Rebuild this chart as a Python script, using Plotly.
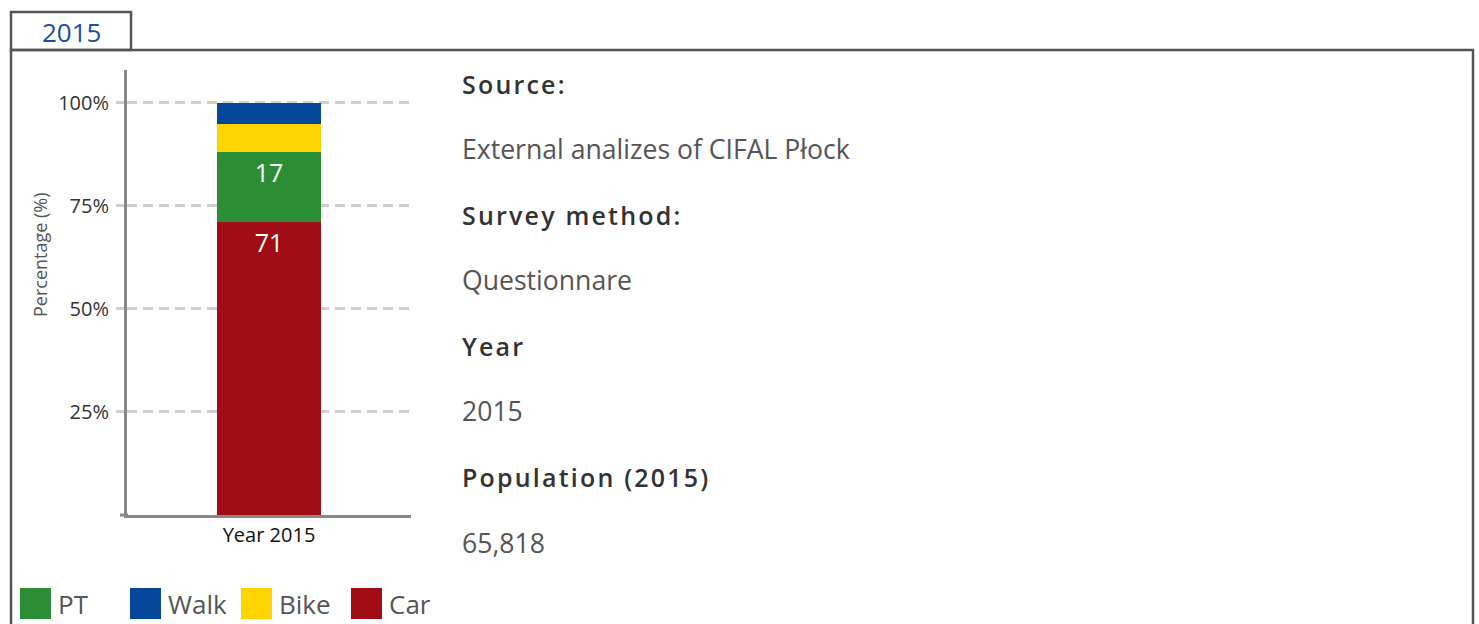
import plotly.graph_objects as go

W, H = 1479, 624

# ---- data ----
categories = ["Year 2015"]
car = [71]
pt = [17]
bike = [7]
walk = [5]
y_ticks = [25, 50, 75, 100]
y_tick_text = [f"{v}%" for v in y_ticks]

legend_order = ["PT", "Walk", "Bike", "Car"]
colors = {"Car": "#a10d14", "PT": "#2b8e34", "Bike": "#ffd400", "Walk": "#03469a"}

info = [
    ("Source:", "External analizes of CIFAL Płock"),
    ("Survey method:", "Questionnare"),
    ("Year", "2015"),
    ("Population (2015)", "65,818"),
]
tab_label = "2015"

FONT = "Open Sans"

def px(x):
    return x / W

def py(y):
    return 1 - y / H

fig = go.Figure()
series = [("Car", car, True), ("PT", pt, True), ("Bike", bike, False), ("Walk", walk, False)]
for name, vals, show in series:
    fig.add_trace(go.Bar(
        x=categories, y=vals, name=name,
        marker=dict(color=colors[name], line=dict(width=0)),
        width=0.363,
        text=[str(v) for v in vals] if show else None,
        textposition="inside" if show else "none",
        insidetextanchor="end",
        textfont=dict(color="white", size=25, family=FONT),
        showlegend=False,
        hoverinfo="skip",
    ))

shapes = []
# tab box
shapes.append(dict(type="rect", xref="paper", yref="paper",
                   x0=px(11), x1=px(131), y0=py(50), y1=py(12),
                   line=dict(color="#555555", width=2.5)))
# main panel
shapes.append(dict(type="path", xref="paper", yref="paper",
                   path=f"M {px(11)} {py(630)} L {px(11)} {py(50)} L {px(1473)} {py(50)} L {px(1473)} {py(630)}",
                   line=dict(color="#555555", width=2.5)))
# x-axis left overshoot
shapes.append(dict(type="line", xref="paper", yref="paper",
                   x0=px(120), x1=px(128), y0=py(515), y1=py(515),
                   line=dict(color="#888888", width=3)))

annotations = []
annotations.append(dict(text=tab_label, x=px(71), y=py(32), xref="paper", yref="paper",
                        showarrow=False, xanchor="center", yanchor="middle",
                        font=dict(family=FONT, size=26, color="#1a4f9f")))

head_y = [84, 215, 346, 477]
val_y = [149, 280, 411, 543]
for (h, v), hy, vy in zip(info, head_y, val_y):
    annotations.append(dict(text=f"<span style='letter-spacing:2.2px'>{h}</span>",
                            x=px(460), y=py(hy), xref="paper", yref="paper",
                            showarrow=False, xanchor="left", yanchor="middle",
                            font=dict(family=FONT, size=25, color="#333333", weight=600)))
    annotations.append(dict(text=v, x=px(460), y=py(vy), xref="paper", yref="paper",
                            showarrow=False, xanchor="left", yanchor="middle",
                            font=dict(family=FONT, size=26.6, color="#555555")))

# legend (custom, large swatches)
leg_x = [20, 130, 241, 351]
for name, lx in zip(legend_order, leg_x):
    shapes.append(dict(type="rect", xref="paper", yref="paper",
                       x0=px(lx), x1=px(lx + 31), y0=py(619), y1=py(588),
                       fillcolor=colors[name], line=dict(width=0)))
    annotations.append(dict(text=name, x=px(lx + 36), y=py(604), xref="paper", yref="paper",
                            showarrow=False, xanchor="left", yanchor="middle",
                            font=dict(family=FONT, size=26, color="#555555")))

# y-axis title
annotations.append(dict(text="Percentage (%)", x=px(40), y=py(255), xref="paper", yref="paper",
                        showarrow=False, textangle=-90, xanchor="center", yanchor="middle",
                        font=dict(family=FONT, size=18, color="#555555")))

fig.update_layout(
    width=W, height=H,
    margin=dict(l=0, r=0, t=0, b=0),
    paper_bgcolor="white", plot_bgcolor="white",
    barmode="stack",
    showlegend=False,
    shapes=shapes,
    annotations=annotations,
    xaxis=dict(domain=[px(127), px(411)], range=[-0.5, 0.5],
               showline=True, linecolor="#888888", linewidth=3,
               showgrid=False, zeroline=False, ticks="",
               tickfont=dict(family=FONT, size=20, color="#111111"),
               fixedrange=True),
    yaxis=dict(domain=[py(515), py(70)], range=[0, 108],
               tickvals=y_ticks, ticktext=y_tick_text,
               showline=True, linecolor="#888888", linewidth=3,
               showgrid=True, gridcolor="#cfcfcf", gridwidth=2.5, griddash="10px,6px",
               zeroline=False, ticks="outside", ticklen=8, tickcolor="#cfcfcf", tickwidth=2.5,
               ticklabelstandoff=3,
               tickfont=dict(family=FONT, size=20, color="#333333"),
               fixedrange=True),
)

fig.write_html("out.html", config={"displayModeBar": False},
               post_script="document.body.style.margin='0';document.body.style.overflow='hidden';")
